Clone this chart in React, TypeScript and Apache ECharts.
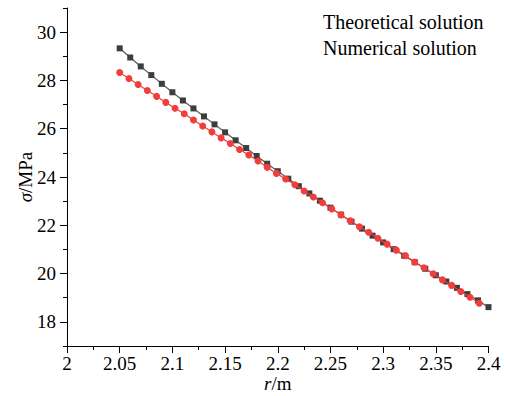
import React, { useEffect, useRef } from "react";
import * as echarts from "echarts";

// Radius sampling of the analytical curve (m)
const theoreticalR = [
  2.05, 2.06, 2.07, 2.08, 2.09, 2.1, 2.11, 2.12, 2.13, 2.14, 2.15, 2.16,
  2.17, 2.18, 2.19, 2.2, 2.21, 2.22, 2.23, 2.24, 2.25, 2.26, 2.27, 2.28,
  2.29, 2.3, 2.31, 2.32, 2.33, 2.34, 2.35, 2.36, 2.37, 2.38, 2.39, 2.4,
];
// Analytical stress (MPa)
const theoreticalSigma = [
  29.33, 28.95, 28.58, 28.22, 27.86, 27.51, 27.17, 26.84, 26.51, 26.18,
  25.85, 25.52, 25.2, 24.87, 24.55, 24.24, 23.93, 23.62, 23.32, 23.02,
  22.73, 22.44, 22.15, 21.86, 21.57, 21.29, 21.01, 20.74, 20.47, 20.2,
  19.93, 19.67, 19.41, 19.15, 18.89, 18.61,
];

// Radius of the numerical nodes (m)
const numericalR = [
  2.05, 2.05875, 2.0675, 2.07625, 2.085, 2.09375, 2.1025, 2.11125, 2.12,
  2.12875, 2.1375, 2.14625, 2.155, 2.16375, 2.1725, 2.18125, 2.19, 2.19875,
  2.2075, 2.21625, 2.225, 2.23375, 2.2425, 2.25125, 2.26, 2.26875, 2.2775,
  2.28625, 2.295, 2.30375, 2.3125, 2.32125, 2.33, 2.33875, 2.3475, 2.35625,
  2.365, 2.37375, 2.3825, 2.39125,
];
// Numerical stress (MPa)
const numericalSigma = [
  28.33, 28.08, 27.83, 27.58, 27.34, 27.09, 26.85, 26.62, 26.36, 26.11,
  25.87, 25.62, 25.39, 25.14, 24.91, 24.66, 24.4, 24.15, 23.92, 23.68,
  23.42, 23.17, 22.93, 22.68, 22.43, 22.19, 21.94, 21.71, 21.46, 21.22,
  20.97, 20.74, 20.48, 20.24, 19.99, 19.74, 19.51, 19.26, 19.02, 18.77,
];

const seriesNames = ["Theoretical solution", "Numerical solution"];
const yMajorTicks = [18, 20, 22, 24, 26, 28, 30];
const yMinorTicks = [17, 19, 21, 23, 25, 27, 29, 31];

const FONT = "Times New Roman, Liberation Serif, serif";
const INK = "#000";

const serif = (size: number, italic = false) => ({
  fontFamily: FONT,
  fontSize: size,
  fontStyle: italic ? "italic" : "normal",
  fontWeight: "normal",
  color: INK,
});

export default function App() {
  const ref = useRef<HTMLDivElement>(null);

  useEffect(() => {
    if (!ref.current) return;
    const chart = echarts.init(ref.current, undefined, { renderer: "svg" });

    const theoretical = theoreticalR.map((r, i) => [r, theoreticalSigma[i]]);
    const numerical = numericalR.map((r, i) => [r, numericalSigma[i]]);

    chart.setOption({
      animation: false,
      backgroundColor: "#fff",
      textStyle: { fontFamily: FONT },
      grid: {
        left: 67,
        right: 16.5,
        top: 8,
        bottom: 50,
        outerBoundsMode: "none",
        containLabel: false,
      },
      legend: {
        data: seriesNames,
        orient: "vertical",
        left: 313,
        top: 7,
        icon: "none",
        itemWidth: 0,
        itemHeight: 20,
        itemGap: 5.5,
        textStyle: serif(20),
      },
      xAxis: {
        type: "value",
        min: 2,
        max: 2.4,
        interval: 0.05,
        name: "{i|r}{t|/m}",
        nameLocation: "middle",
        nameGap: 28,
        nameMoveOverlap: false,
        nameTextStyle: {
          ...serif(19),
          lineHeight: 19,
          rich: { i: { ...serif(19, true), lineHeight: 19 }, t: { ...serif(19), lineHeight: 19 } },
        },
        axisLine: { show: true, lineStyle: { color: INK, width: 1 } },
        axisTick: { show: true, inside: false, length: 7, lineStyle: { color: INK } },
        minorTick: { show: true, splitNumber: 2, length: 4, lineStyle: { color: INK } },
        axisLabel: { ...serif(19), lineHeight: 19, margin: 8 },
        splitLine: { show: false },
      },
      yAxis: [
        {
          type: "value",
          min: 17,
          max: 31,
          name: "{i|σ}{t|/MPa}",
          nameLocation: "middle",
          nameGap: 32,
          nameMoveOverlap: false,
          nameRotate: 90,
          nameTextStyle: { ...serif(19), rich: { i: serif(19, true), t: serif(19) } },
          axisLine: { show: true, lineStyle: { color: INK, width: 1 } },
          axisTick: {
            show: true,
            inside: false,
            length: 7,
            customValues: yMajorTicks,
            lineStyle: { color: INK },
          },
          axisLabel: { ...serif(19), margin: 11, customValues: yMajorTicks },
          splitLine: { show: false },
        },
        {
          type: "value",
          min: 17,
          max: 31,
          position: "left",
          axisLine: { show: false },
          axisTick: {
            show: true,
            inside: false,
            length: 4,
            customValues: yMinorTicks,
            lineStyle: { color: INK },
          },
          axisLabel: { show: false },
          splitLine: { show: false },
        },
      ],
      series: [
        {
          name: seriesNames[0],
          type: "line",
          data: theoretical,
          symbol: "rect",
          symbolSize: 6,
          itemStyle: { color: "#3d3d3d" },
          lineStyle: { color: "#5a5a5a", width: 1.2 },
          z: 2,
        },
        {
          name: seriesNames[1],
          type: "line",
          data: numerical,
          symbol: "circle",
          symbolSize: 7,
          itemStyle: { color: "#f23d3d" },
          lineStyle: { color: "#f23d3d", width: 1.2 },
          z: 3,
        },
      ],
    });

    return () => chart.dispose();
  }, []);

  return (
    <div
      ref={ref}
      style={{ position: "absolute", left: 0, top: 0, width: 505, height: 396 }}
    />
  );
}
